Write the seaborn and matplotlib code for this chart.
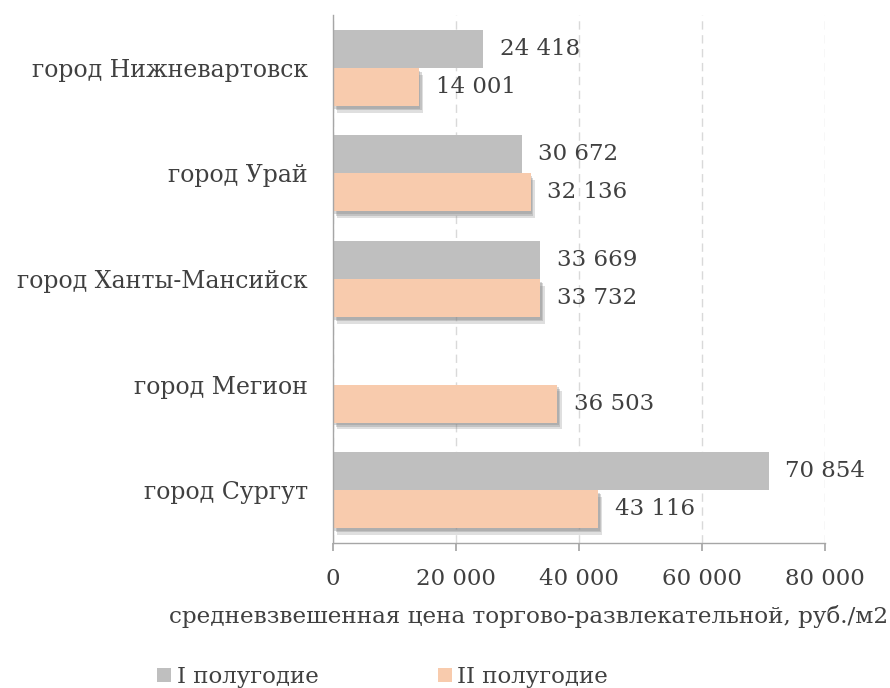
import numpy as np
import pandas as pd
import matplotlib
matplotlib.use("Agg")
import matplotlib.pyplot as plt
import matplotlib.patheffects as pe
from matplotlib.patches import Patch
import seaborn as sns

cities = ["город Нижневартовск", "город Урай", "город Ханты-Мансийск", "город Мегион", "город Сургут"]
half1 = [24418, 30672, 33669, np.nan, 70854]
half2 = [14001, 32136, 33732, 36503, 43116]
series = ["I полугодие", "II полугодие"]
xticks = [0, 20000, 40000, 60000, 80000]
xlabel = "средневзвешенная цена торгово-развлекательной, руб./м2"

colors = ["#BFBFBF", "#F8CBAD"]
txt = "#404040"

df = pd.DataFrame({
    "city": cities * 2,
    "value": half1 + half2,
    "series": [series[0]] * len(cities) + [series[1]] * len(cities),
})

sns.set_theme(style="white")
plt.rcParams["font.family"] = ["DejaVu Serif"]

fig = plt.figure(figsize=(8.9, 6.88), dpi=100)
ax = fig.add_axes([0.374, 0.211, 0.553, 0.767])

sns.barplot(data=df, y="city", x="value", hue="series", order=cities,
            hue_order=series, palette=colors, orient="h", width=0.72,
            ax=ax, legend=False, errorbar=None, saturation=1, linewidth=0)

shadow = [pe.SimplePatchShadow(offset=(3, -5), shadow_rgbFace="#808080", alpha=0.25),
          pe.SimplePatchShadow(offset=(2, -3), shadow_rgbFace="#808080", alpha=0.3),
          pe.SimplePatchShadow(offset=(1, -2), shadow_rgbFace="#808080", alpha=0.3),
          pe.Normal()]
for p in ax.containers[1]:
    p.set_path_effects(shadow)

def fmt(v):
    return f"{int(round(v)):,}".replace(",", " ")

for cont in ax.containers:
    labels = [fmt(v) if not np.isnan(v) else "" for v in cont.datavalues]
    ax.bar_label(cont, labels=labels, padding=12, fontsize=16.5, color=txt)

ax.set_xlim(0, 80000)
ax.set_xticks(xticks)
ax.set_xticklabels([fmt(v) for v in xticks], fontsize=16.5, color=txt)
ax.tick_params(axis="x", which="both", bottom=True, length=6, color="#A6A6A6", pad=12)
ax.tick_params(axis="y", left=False, labelsize=17, labelcolor=txt, pad=12)
ax.set_xlabel("")
ax.set_ylabel("")
ax.xaxis.grid(True, linestyle=(0, (6, 4)), color="#D9D9D9", linewidth=1)
ax.set_axisbelow(True)
for s in ["top", "right"]:
    ax.spines[s].set_visible(False)
for s in ["left", "bottom"]:
    ax.spines[s].set_color("#A6A6A6")
    ax.spines[s].set_linewidth(1)

fig.text(529 / 890, 1 - 617 / 688, xlabel, ha="center", va="center", fontsize=16.7, color=txt)

handles = [Patch(facecolor=c, edgecolor="none") for c in colors]
leg = fig.legend(handles, series, loc="center", bbox_to_anchor=(0.43, 1 - 677 / 688), ncol=2,
                 frameon=False, fontsize=16.5, handlelength=0.6, handleheight=0.6,
                 handletextpad=0.25, columnspacing=5.2)
for t in leg.get_texts():
    t.set_color(txt)

fig.savefig("out.png", dpi=100)
